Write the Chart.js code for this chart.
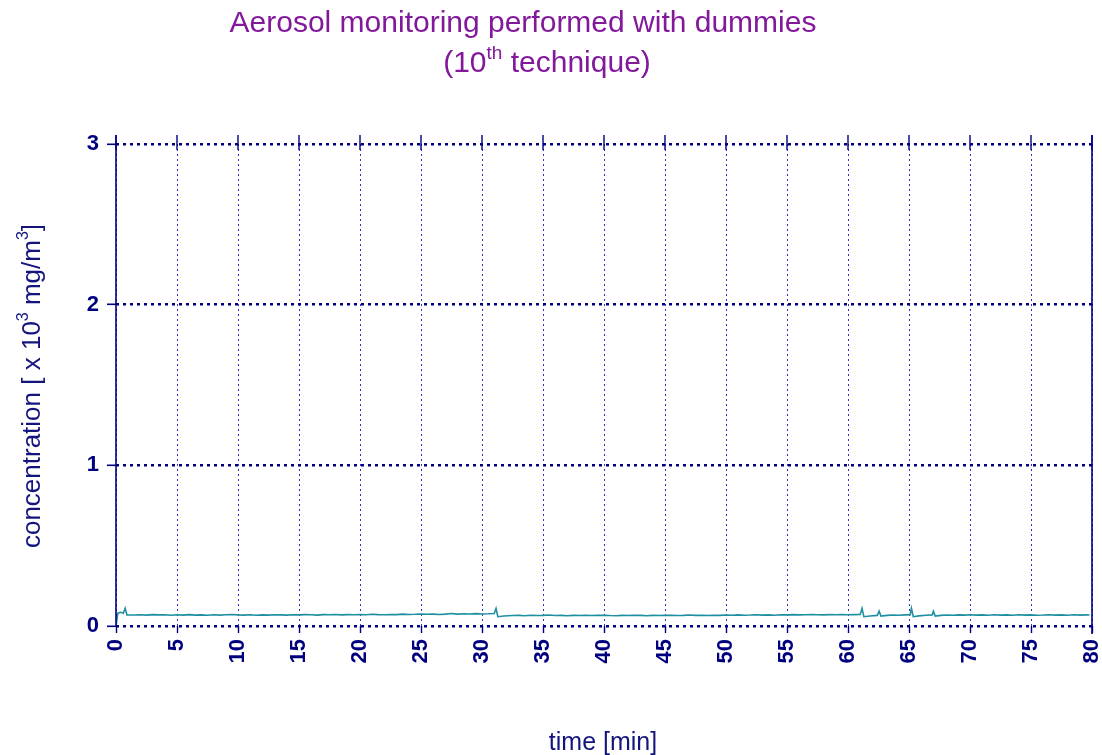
<!DOCTYPE html>
<html>
<head>
<meta charset="utf-8">
<script src="https://cdn.jsdelivr.net/npm/chart.js@4/dist/chart.umd.min.js"></script>
<style>
  html, body { margin: 0; padding: 0; background: #ffffff; }
  #wrap { width: 1102px; height: 755px; position: relative; }
</style>
</head>
<body>
<div id="wrap"><canvas id="c" width="1102" height="755"></canvas></div>
<script>
// Aerosol concentration readings (x 10^3 mg/m^3) against elapsed time (min)
const timeMin = [
  0, 0.15, 0.4, 0.6, 0.75, 0.9, 1.5, 2, 2.5, 3, 3.5, 4, 4.5, 5, 5.5, 6, 6.5, 7, 7.5, 8,
  8.5, 9, 9.5, 10, 10.5, 11, 11.5, 12, 12.5, 13, 13.5, 14, 14.5, 15, 15.5, 16, 16.5, 17, 17.5, 18,
  18.5, 19, 19.5, 20, 20.5, 21, 21.5, 22, 22.5, 23, 23.5, 24, 24.5, 25, 25.5, 26, 26.5, 27, 27.5, 28,
  28.5, 29, 29.5, 30, 30.5, 31, 31.15, 31.3, 31.8, 32.5, 33, 33.5, 34, 34.5, 35, 35.5, 36, 36.5, 37, 37.5,
  38, 38.5, 39, 39.5, 40, 40.5, 41, 41.5, 42, 42.5, 43, 43.5, 44, 44.5, 45, 45.5, 46, 46.5, 47, 47.5,
  48, 48.5, 49, 49.5, 50, 50.5, 51, 51.5, 52, 52.5, 53, 53.5, 54, 54.5, 55, 55.5, 56, 56.5, 57, 57.5,
  58, 58.5, 59, 59.5, 60, 60.5, 61, 61.15, 61.3, 61.8, 62.4, 62.55, 62.7, 63.2, 63.7, 64.2, 64.7, 65.1, 65.2, 65.35,
  65.8, 66.4, 66.9, 67.0, 67.15, 67.6, 68.1, 68.6, 69.1, 69.6, 70, 70.5, 71, 71.5, 72, 72.5, 73, 73.5, 74, 74.5,
  75, 75.5, 76, 76.5, 77, 77.5, 78, 78.5, 79, 79.5, 79.8
];
const concentration = [
  0.000, 0.080, 0.085, 0.080, 0.110, 0.068, 0.068, 0.070, 0.068, 0.071, 0.069, 0.070, 0.067, 0.070, 0.068, 0.071, 0.068, 0.069, 0.067, 0.070,
  0.068, 0.070, 0.072, 0.069, 0.068, 0.070, 0.067, 0.069, 0.068, 0.070, 0.069, 0.068, 0.070, 0.069, 0.071, 0.070, 0.068, 0.071, 0.070, 0.072,
  0.069, 0.071, 0.070, 0.072, 0.070, 0.073, 0.071, 0.070, 0.072, 0.071, 0.074, 0.072, 0.073, 0.075, 0.073, 0.074, 0.072, 0.074, 0.078, 0.074,
  0.076, 0.075, 0.077, 0.075, 0.076, 0.078, 0.110, 0.058, 0.062, 0.065, 0.066, 0.064, 0.067, 0.065, 0.066, 0.068, 0.065, 0.066, 0.064, 0.066,
  0.065, 0.067, 0.065, 0.066, 0.067, 0.065, 0.064, 0.066, 0.065, 0.067, 0.066, 0.064, 0.066, 0.065, 0.066, 0.067, 0.065, 0.066, 0.068, 0.066,
  0.067, 0.065, 0.067, 0.066, 0.068, 0.067, 0.069, 0.067, 0.068, 0.070, 0.068, 0.069, 0.067, 0.070, 0.069, 0.071, 0.069, 0.070, 0.072, 0.070,
  0.069, 0.071, 0.070, 0.072, 0.070, 0.071, 0.072, 0.110, 0.058, 0.062, 0.066, 0.092, 0.062, 0.066, 0.068, 0.067, 0.069, 0.070, 0.110, 0.058,
  0.063, 0.067, 0.069, 0.092, 0.062, 0.066, 0.068, 0.067, 0.069, 0.068, 0.070, 0.068, 0.069, 0.067, 0.070, 0.068, 0.069, 0.067, 0.070, 0.068,
  0.069, 0.067, 0.068, 0.070, 0.068, 0.069, 0.067, 0.070, 0.068, 0.069, 0.068
];
const xTickValues = [0, 5, 10, 15, 20, 25, 30, 35, 40, 45, 50, 55, 60, 65, 70, 75, 80];
const yTickValues = [0, 1, 2, 3];

const titleLine1 = [{ t: 'Aerosol monitoring performed with dummies' }];
const titleLine2 = [{ t: '(10' }, { t: 'th', sup: true }, { t: ' technique)' }];
const yAxisTitle = [{ t: 'concentration [ x 10' }, { t: '3', sup: true }, { t: ' mg/m' }, { t: '3', sup: true }, { t: ']' }];
const xAxisTitle = [{ t: 'time [min]' }];

const NAVY = '#00007f';
const LABEL_NAVY = '#14147f';
const PURPLE = '#82189a';
const FONT = '"Liberation Sans", Arial, sans-serif';

// Draw a run of text with optional superscript pieces, centred on (cx, baseline)
function richText(ctx, parts, cx, baseY, size, color) {
  const supSize = Math.round(size * 0.62);
  let total = 0;
  parts.forEach(p => {
    ctx.font = (p.sup ? supSize : size) + 'px ' + FONT;
    total += ctx.measureText(p.t).width;
  });
  let x = cx - total / 2;
  ctx.fillStyle = color;
  ctx.textBaseline = 'alphabetic';
  ctx.textAlign = 'left';
  parts.forEach(p => {
    ctx.font = (p.sup ? supSize : size) + 'px ' + FONT;
    ctx.fillText(p.t, x, p.sup ? baseY - size * 0.45 : baseY);
    x += ctx.measureText(p.t).width;
  });
}

const decorations = {
  id: 'decorations',
  afterDraw(chart) {
    const ctx = chart.ctx;
    const a = chart.chartArea;
    const xs = chart.scales.x;
    ctx.save();
    // frame: left and right axis lines rising a little above the top grid line
    ctx.strokeStyle = NAVY;
    ctx.lineWidth = 1.6;
    ctx.setLineDash([]);
    ctx.beginPath();
    ctx.moveTo(a.left, a.top - 9); ctx.lineTo(a.left, a.bottom);
    ctx.moveTo(a.right, a.top - 9); ctx.lineTo(a.right, a.bottom + 8);
    ctx.stroke();
    // short tick marks across the top line
    ctx.lineWidth = 1.4;
    ctx.beginPath();
    xTickValues.forEach(v => {
      const px = xs.getPixelForValue(v);
      ctx.moveTo(px, a.top - 9); ctx.lineTo(px, a.top + 6);
    });
    ctx.stroke();

    // titles
    richText(ctx, titleLine1, 523, 32, 30, PURPLE);
    richText(ctx, titleLine2, 547, 72, 30, PURPLE);
    richText(ctx, xAxisTitle, 603, 750, 25, LABEL_NAVY);
    ctx.save();
    ctx.translate(40, 386);
    ctx.rotate(-Math.PI / 2);
    richText(ctx, yAxisTitle, 0, 0, 26, LABEL_NAVY);
    ctx.restore();
    ctx.restore();
  }
};

new Chart(document.getElementById('c'), {
  type: 'line',
  data: {
    datasets: [{
      data: timeMin.map((t, i) => ({ x: t, y: concentration[i] })),
      borderColor: '#1e8fa0',
      borderWidth: 1.6,
      pointRadius: 0,
      tension: 0,
      fill: false
    }]
  },
  options: {
    responsive: false,
    animation: false,
    events: [],
    layout: { padding: { top: 144, right: 10, left: 0, bottom: 0 } },
    plugins: { legend: { display: false }, title: { display: false }, tooltip: { enabled: false } },
    scales: {
      x: {
        type: 'linear',
        min: 0,
        max: 80,
        afterFit(scale) {
          scale.height = 129;
          scale.paddingLeft = 0;
          scale.paddingRight = 0;
        },
        afterBuildTicks(scale) { scale.ticks = xTickValues.map(v => ({ value: v })); },
        border: { display: false, dash: [2, 3] },
        grid: {
          color: '#3030c0',
          lineWidth: 1,
          drawTicks: true,
          tickLength: 7,
          tickColor: NAVY,
          tickWidth: 1.4,
          tickBorderDash: []
        },
        ticks: {
          minRotation: 90,
          maxRotation: 90,
          padding: 6,
          color: NAVY,
          font: { family: FONT, size: 22, weight: 'bold' }
        }
      },
      y: {
        min: 0,
        max: 3,
        afterFit(scale) {
          scale.width = 116;
          scale.paddingTop = 0;
          scale.paddingBottom = 0;
        },
        afterBuildTicks(scale) { scale.ticks = yTickValues.map(v => ({ value: v })); },
        border: { display: false, dash: [3, 4] },
        grid: {
          color: NAVY,
          lineWidth: 2.6,
          drawTicks: true,
          tickLength: 9,
          tickColor: NAVY,
          tickWidth: 1.6,
          tickBorderDash: []
        },
        ticks: {
          padding: 8,
          color: NAVY,
          font: { family: FONT, size: 22, weight: 'bold' }
        }
      }
    }
  },
  plugins: [decorations]
});
</script>
</body>
</html>
